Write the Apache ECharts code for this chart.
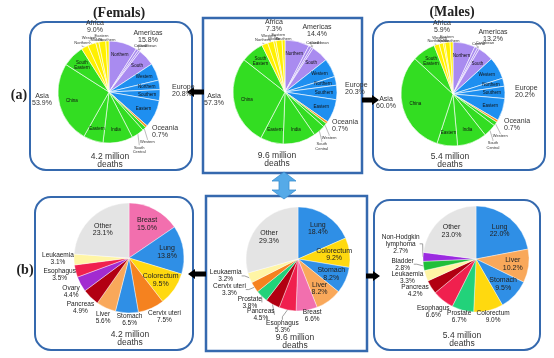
<!DOCTYPE html>
<html><head><meta charset="utf-8">
<script src="https://cdn.jsdelivr.net/npm/echarts@6/dist/echarts.min.js"></script>
<style>html,body{margin:0;padding:0;background:#fff}#c{width:554px;height:358px}</style>
</head><body><div id="c"></div>
<script>
// ---------- DATA ----------
const regionNames = ['Americas','Europe','Oceania','Asia','Africa'];
const femaleRegion = [15.8,20.8,0.7,53.9,9.0];
const bothRegion   = [14.4,20.3,0.7,57.3,7.3];
const maleRegion   = [13.2,20.2,0.7,60.0,5.9];

const subNames = ['Northern','Central','Caribbean','South',
  'Western','Northern','Southern','Eastern',
  'Oceania',
  'Western','South Central','India','Eastern','China','South Eastern',
  'Northern','Western','Middle','Eastern','Southern'];
const subRegionOf = ['Americas','Americas','Americas','Americas',
  'Europe','Europe','Europe','Europe','Oceania',
  'Asia','Asia','Asia','Asia','Asia','Asia',
  'Africa','Africa','Africa','Africa','Africa'];
const femaleSub = [9.0,0.8,0.6,5.4, 5.5,3.0,3.5,8.8, 0.7, 1.2,4.0,9.5,6.3,25.9,7.0, 2.2,2.6,1.0,2.2,1.0];
const bothSub   = [7.6,0.9,0.6,5.3, 5.8,2.7,4.5,7.3, 0.7, 1.2,3.8,10.2,7.1,27.9,7.1, 1.9,1.9,0.7,1.9,0.9];
const maleSub   = [6.9,0.9,0.6,4.8, 6.9,2.5,3.8,7.0, 0.7, 1.3,4.0,9.2,6.4,31.9,7.2, 1.6,1.3,0.5,1.6,0.9];

const deathTotals = ['4.2 million','9.6 million','5.4 million'];

const femaleCancerNames = ['Breast','Lung','Colorectum','Cervix uteri','Stomach','Liver','Pancreas','Ovary','Esophagus','Leukaemia','Other'];
const femaleCancer = [15.0,13.8,9.5,7.5,6.5,5.6,4.9,4.4,3.5,3.1,23.1];
const bothCancerNames = ['Lung','Colorectum','Stomach','Liver','Breast','Esophagus','Pancreas','Prostate','Cervix uteri','Leukaemia','Other'];
const bothCancer = [18.4,9.2,8.2,8.2,6.6,5.3,4.5,3.8,3.3,3.2,29.3];
const maleCancerNames = ['Lung','Liver','Stomach','Colorectum','Prostate','Esophagus','Pancreas','Leukaemia','Bladder','Non-Hodgkin lymphoma','Other'];
const maleCancer = [22.0,10.2,9.5,9.0,6.7,6.6,4.2,3.3,2.8,2.7,23.0];

// ---------- STYLE / LAYOUT ----------
const regionColors = {Americas:'#A98BF0', Europe:'#1E8FF0', Oceania:'#F7941E', Asia:'#33DD22', Africa:'#FFF000'};
const cancerColors = {'Breast':'#F26FAE','Lung':'#2F8FE6','Colorectum':'#FFD90F','Cervix uteri':'#F5821F',
  'Stomach':'#2F8FE6','Liver':'#F9A85A','Pancreas':'#B20012','Ovary':'#A22BD0','Esophagus':'#F0204E',
  'Leukaemia':'#FFF5A5','Other':'#E4E4E4','Prostate':'#22D27A','Bladder':'#1FBF3A','Non-Hodgkin lymphoma':'#9B2BE0'};
const FONT = 'Liberation Sans';
const topL = [{c:[109,92],R:51},{c:[285,92],R:52},{c:[453,94],R:52}];
const botL = [{c:[129,258],R:55},{c:[298,259],R:52},{c:[476,259],R:53}];
const topOutsideTweak = {1:[0,1,0],2:[2,3,3],9:[-3,7,2],10:[-4,8,2],15:[0,1,0],16:[0,1,3],17:[0,1,0],18:[0,1,3],19:[0,1,0]};
const regionLabelPos = [
  {Americas:[39,-55,'center'],Europe:[63,-1,'left'],Oceania:[43,40,'left'],Asia:[-67,8,'center'],Africa:[-14,-65,'center']},
  {Americas:[32,-61,'center'],Europe:[60,-3,'left'],Oceania:[47,34,'left'],Asia:[-71,8,'center'],Africa:[-11,-66,'center']},
  {Americas:[40,-58,'center'],Europe:[62,-2,'left'],Oceania:[51,31,'left'],Asia:[-67,9,'center'],Africa:[-11,-67,'center']}
];
const botInside = [['Breast','Lung','Colorectum','Other'],['Lung','Colorectum','Stomach','Liver','Other'],['Lung','Liver','Stomach','Other']];
const botLines = [[],['Leukaemia','Cervix uteri','Prostate','Pancreas','Esophagus'],['Non-Hodgkin lymphoma','Bladder']];
const botTweak = [
  {'Liver':[1,1],'Stomach':[3,-1],'Cervix uteri':[8,-4],'Esophagus':[1,-1],'Ovary':[0,2],'Leukaemia':[0,-1]},
  {'Leukaemia':[-3,-10],'Cervix uteri':[-6,-10],'Prostate':[1,-7],'Pancreas':[-3,-5],'Esophagus':[-2,2],'Breast':[4,-3]},
  {'Non-Hodgkin lymphoma':[2,-12],'Bladder':[-4,-4],'Leukaemia':[-2,-4],'Pancreas':[-3,-5],'Esophagus':[0,-1],'Prostate':[-1,-3],'Colorectum':[2,-4]}
];

// label placement: inside labels at a fraction of radius, outside labels just beyond the rim
function makeLayout(L, vals, cfg){
  const total = vals.reduce((a,b)=>a+b,0);
  let cum = 0;
  const dirs = vals.map(v=>{ const a = (cum + v/2)/total*2*Math.PI; cum += v; return [Math.sin(a), -Math.cos(a)]; });
  return function(p){
    const c = cfg(p.dataIndex); if(!c) return {};
    const [ux,uy] = dirs[p.dataIndex];
    let d;
    if(c.inside) d = L.R*c.f;
    else d = L.R + c.gap + Math.abs(ux)*p.labelRect.width/2 + Math.abs(uy)*p.labelRect.height/2;
    return {x: L.c[0] + ux*d + (c.dx||0), y: L.c[1] + uy*d + (c.dy||0), align:'center', verticalAlign:'middle'};
  };
}

function topPie(sub, L){
  const data = sub.map((v,i)=>{
    const out = topOutsideTweak[i] !== undefined, hide = (i === 8);
    return {value:v, name:subNames[i], itemStyle:{color:regionColors[subRegionOf[i]]},
      label: hide ? {show:false} : out ?
        {show:true, position:'outside', fontSize:4, lineHeight:4.5, color:'#333'} :
        {show:true, position:'inside', fontSize:4.5, lineHeight:5, color:'#111'},
      labelLine: out ? {show:true, length:3, length2:1, lineStyle:{color:'#777', width:0.5}} : {show:false}};
  });
  const cfg = i => {
    if(i === 8) return null;
    const t = topOutsideTweak[i];
    if(t) return {inside:false, gap:t[2], dx:t[0], dy:t[1]};
    return {inside:true, f:0.75};
  };
  return {type:'pie', center:L.c, radius:[0,L.R], startAngle:90, clockwise:true, silent:true, animation:false,
    avoidLabelOverlap:false, itemStyle:{borderColor:'#fff', borderWidth:0.6},
    label:{fontFamily:FONT, formatter:p=>p.name.replace(' ','\n')},
    labelLayout: makeLayout(L, sub, cfg), data};
}

function botPie(names, vals, L, k){
  const data = vals.map((v,i)=>{
    const n = names[i];
    const isIn = botInside[k].indexOf(n) >= 0, line = botLines[k].indexOf(n) >= 0;
    return {value:v, name:n, itemStyle:{color:cancerColors[n]},
      label: isIn ? {show:true, position:'inside', fontSize:7, lineHeight:7.5, color:'#222'} :
        {show:true, position:'outside', fontSize:6.5, lineHeight:7, color:'#222'},
      labelLine: line ? {show:true, length:4, length2:3, lineStyle:{color:'#777', width:0.7}} : {show:false, length:1, length2:0}};
  });
  const cfg = i => {
    const n = names[i];
    if(botInside[k].indexOf(n) >= 0) return {inside:true, f:0.7};
    const t = botTweak[k][n] || [0,0];
    return {inside:false, gap: botLines[k].indexOf(n) >= 0 ? 5 : 0, dx:t[0], dy:t[1]};
  };
  return {type:'pie', center:L.c, radius:[0,L.R], startAngle:90, clockwise:true, silent:true, animation:false,
    avoidLabelOverlap:false, itemStyle:{borderColor:'#fff', borderWidth:0.4},
    label:{fontFamily:FONT, formatter:p=>p.name.replace('Non-Hodgkin ','Non-Hodgkin\n') + '\n' + p.value.toFixed(1) + '%'},
    labelLayout: makeLayout(L, vals, cfg), data};
}

// ---------- GRAPHICS ----------
const BOX = '#3569AE';
const g = [];
function rect(x,y,w,h,r,lw){ g.push({type:'rect', z:10, silent:true, shape:{x,y,width:w,height:h,r}, style:{fill:'none', stroke:BOX, lineWidth:lw}}); }
rect(30,22,162,148,16,2);
rect(203,18,159,155,0,2.5);
rect(373,22,172,148,16,2);
rect(35,197,158,153,16,2);
rect(206,196,161,155,0,2.5);
rect(374,200,166,150,16,2);
function arrow(tx,ty,dir,L){
  const hl=7,H=5,h=2.5,s=dir;
  g.push({type:'polygon', z:11, silent:true, shape:{points:[[tx,ty],[tx+s*hl,ty-H],[tx+s*hl,ty-h],[tx+s*L,ty-h],[tx+s*L,ty+h],[tx+s*hl,ty+h],[tx+s*hl,ty+H]]}, style:{fill:'#000'}});
}
arrow(187,92,1,17);
arrow(379,100,-1,17);
arrow(188,274,1,18);
arrow(380,276,-1,14);
g.push({type:'polygon', z:11, silent:true, shape:{points:[[284,172],[296,181],[289,181],[289,190],[296,190],[284,199],[272,190],[279,190],[279,181],[272,181]]},
  style:{fill:'#55AAE8', stroke:'#3A8FD0', lineWidth:0.8}});
function text(x,y,t,font,align,lh,color){
  g.push({type:'text', z:12, silent:true, x, y, style:{text:t, font, fill:color||'#222', align:align||'center', verticalAlign:'middle', lineHeight:lh}});
}
text(119,13,'(Femals)','bold 14px "Liberation Serif"');
text(452,12,'(Males)','bold 14px "Liberation Serif"');
text(19,95,'(a)','bold 14px "Liberation Serif"');
text(25,270,'(b)','bold 14px "Liberation Serif"');
const topTotPos = [[110,161],[277,160],[450,161]];
const botTotPos = [[130,339],[295,342],[462,340]];
deathTotals.forEach((t,i)=>{
  text(topTotPos[i][0], topTotPos[i][1], t+'\ndeaths', '8.5px "Liberation Sans"', 'center', 8, '#333');
  text(botTotPos[i][0], botTotPos[i][1], t+'\ndeaths', '8.5px "Liberation Sans"', 'center', 8, '#333');
});
[femaleRegion, bothRegion, maleRegion].forEach((arr,k)=>{
  regionNames.forEach((n,i)=>{
    const p = regionLabelPos[k][n];
    text(topL[k].c[0]+p[0], topL[k].c[1]+p[1], n+'\n'+arr[i].toFixed(1)+'%', '7px "Liberation Sans"', p[2], 7, '#333');
  });
});

const chart = echarts.init(document.getElementById('c'), null, {renderer:'canvas'});
chart.setOption({
  animation:false,
  graphic: g,
  series: [
    topPie(femaleSub, topL[0]), topPie(bothSub, topL[1]), topPie(maleSub, topL[2]),
    botPie(femaleCancerNames, femaleCancer, botL[0], 0),
    botPie(bothCancerNames, bothCancer, botL[1], 1),
    botPie(maleCancerNames, maleCancer, botL[2], 2)
  ]
});
</script></body></html>
